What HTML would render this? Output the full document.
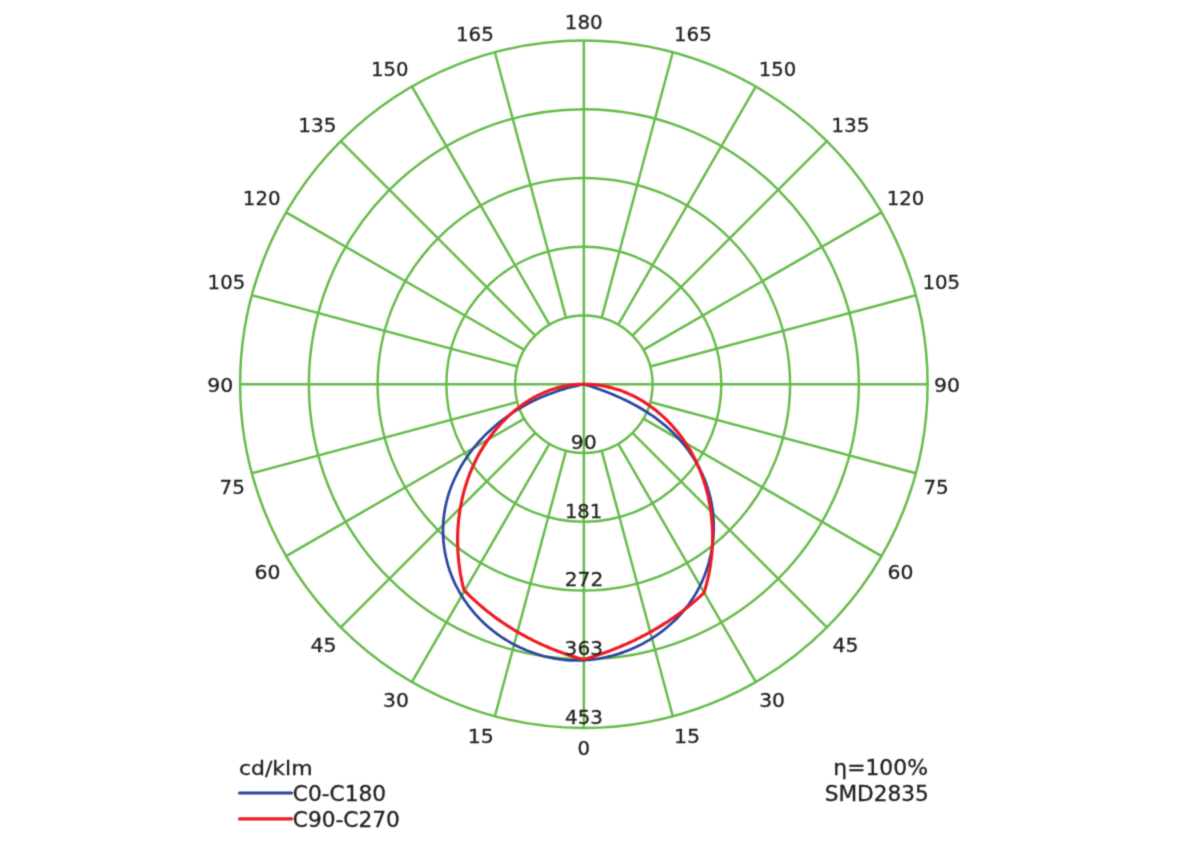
<!DOCTYPE html>
<html lang="en"><head><meta charset="utf-8"><title>Polar luminous intensity diagram</title>
<style>html,body{margin:0;padding:0;background:#fff}body{width:1200px;height:849px;overflow:hidden}svg{display:block}text{font-family:"DejaVu Sans","Liberation Sans",sans-serif;fill:#231f20;stroke:#231f20;stroke-width:.3px}</style></head><body>
<svg width="1200" height="849" viewBox="0 0 1200 849">
<defs><filter id="soft" x="0" y="0" width="1200" height="849" filterUnits="userSpaceOnUse" color-interpolation-filters="sRGB"><feConvolveMatrix order="3" kernelMatrix="0.0256 0.1088 0.0256 0.1088 0.4624 0.1088 0.0256 0.1088 0.0256" edgeMode="duplicate" preserveAlpha="false"/></filter></defs>
<g filter="url(#soft)">
<rect width="1200" height="849" fill="#fff"/>
<g fill="none" stroke="#66bb4a" stroke-width="2.45">
<circle cx="583.85" cy="384.25" r="68.75"/>
<circle cx="583.85" cy="384.25" r="137.50"/>
<circle cx="583.85" cy="384.25" r="206.25"/>
<circle cx="583.85" cy="384.25" r="275.00"/>
<circle cx="583.85" cy="384.25" r="343.75"/>
<line x1="240.10" y1="384.25" x2="927.60" y2="384.25"/>
<line x1="583.85" y1="40.50" x2="583.85" y2="728.00"/>
<line x1="601.64" y1="450.66" x2="672.82" y2="716.29"/>
<line x1="618.23" y1="443.79" x2="755.73" y2="681.95"/>
<line x1="632.46" y1="432.86" x2="826.92" y2="627.32"/>
<line x1="643.39" y1="418.62" x2="881.55" y2="556.12"/>
<line x1="650.26" y1="402.04" x2="915.89" y2="473.22"/>
<line x1="650.26" y1="366.46" x2="915.89" y2="295.28"/>
<line x1="643.39" y1="349.88" x2="881.55" y2="212.38"/>
<line x1="632.46" y1="335.64" x2="826.92" y2="141.18"/>
<line x1="618.23" y1="324.71" x2="755.73" y2="86.55"/>
<line x1="601.64" y1="317.84" x2="672.82" y2="52.21"/>
<line x1="566.06" y1="317.84" x2="494.88" y2="52.21"/>
<line x1="549.48" y1="324.71" x2="411.98" y2="86.55"/>
<line x1="535.24" y1="335.64" x2="340.78" y2="141.18"/>
<line x1="524.31" y1="349.88" x2="286.15" y2="212.37"/>
<line x1="517.44" y1="366.46" x2="251.81" y2="295.28"/>
<line x1="517.44" y1="402.04" x2="251.81" y2="473.22"/>
<line x1="524.31" y1="418.62" x2="286.15" y2="556.12"/>
<line x1="535.24" y1="432.86" x2="340.78" y2="627.32"/>
<line x1="549.48" y1="443.79" x2="411.97" y2="681.95"/>
<line x1="566.06" y1="450.66" x2="494.88" y2="716.29"/>
</g>
<g fill="none" stroke-linecap="round" stroke-linejoin="round">
<path stroke="#2b44a0" stroke-width="2.7" d="M584.1 384.2 L581.1 384.8 L578.2 385.4 L575.3 386.1 L572.4 386.7 L569.4 387.5 L566.6 388.3 L563.7 389.1 L560.8 390.0 L557.9 390.9 L555.1 391.9 L552.3 392.9 L549.5 393.9 L546.7 395.0 L543.9 396.2 L541.1 397.3 L538.4 398.6 L535.7 399.8 L533.0 401.1 L530.3 402.5 L527.6 403.9 L525.0 405.3 L522.4 406.8 L519.8 408.3 L517.2 409.8 L514.7 411.4 L512.1 413.1 L509.7 414.8 L507.2 416.5 L504.8 418.3 L502.4 420.1 L500.0 421.9 L497.7 423.8 L495.4 425.7 L493.1 427.7 L490.9 429.7 L488.7 431.7 L486.5 433.8 L484.4 435.9 L482.3 438.1 L480.2 440.3 L478.2 442.5 L476.3 444.8 L474.4 447.1 L472.5 449.5 L470.7 451.8 L468.9 454.3 L467.2 456.7 L465.5 459.2 L463.8 461.7 L462.3 464.3 L460.7 466.8 L459.3 469.5 L457.8 472.1 L456.5 474.8 L455.2 477.5 L453.9 480.2 L452.7 483.0 L451.6 485.8 L450.5 488.6 L449.5 491.4 L448.6 494.2 L447.7 497.1 L447.0 500.0 L446.2 502.9 L445.6 505.9 L445.0 508.8 L444.5 511.8 L444.1 514.7 L443.7 517.7 L443.4 520.7 L443.2 523.7 L443.1 526.7 L443.0 529.7 L443.1 532.7 L443.1 535.7 L443.3 538.7 L443.5 541.7 L443.9 544.7 L444.2 547.7 L444.7 550.6 L445.2 553.6 L445.8 556.5 L446.5 559.4 L447.2 562.4 L448.0 565.3 L448.9 568.1 L449.8 571.0 L450.9 573.8 L451.9 576.6 L453.1 579.4 L454.3 582.1 L455.6 584.8 L457.0 587.5 L458.4 590.1 L459.9 592.8 L461.4 595.3 L463.0 597.9 L464.7 600.4 L466.4 602.8 L468.1 605.3 L470.0 607.7 L471.8 610.0 L473.8 612.3 L475.7 614.6 L477.8 616.8 L479.8 619.0 L481.9 621.1 L484.1 623.2 L486.3 625.2 L488.6 627.2 L490.9 629.1 L493.2 631.0 L495.6 632.8 L498.0 634.6 L500.5 636.3 L503.0 638.0 L505.5 639.6 L508.1 641.2 L510.7 642.7 L513.3 644.1 L515.9 645.5 L518.6 646.8 L521.3 648.1 L524.1 649.3 L526.9 650.5 L529.7 651.6 L532.5 652.6 L535.3 653.6 L538.2 654.5 L541.0 655.4 L543.9 656.2 L546.9 656.9 L549.8 657.5 L552.7 658.1 L555.7 658.7 L558.7 659.1 L561.6 659.5 L564.6 659.8 L567.6 660.1 L570.6 660.3 L573.6 660.4 L576.6 660.4 L579.6 660.4 L582.6 660.3 L585.6 660.1 L588.6 659.9 L591.6 659.6 L594.6 659.2 L597.5 658.8 L600.5 658.3 L603.4 657.7 L606.4 657.1 L609.3 656.4 L612.2 655.7 L615.1 654.9 L618.0 654.0 L620.8 653.1 L623.7 652.1 L626.5 651.0 L629.3 649.9 L632.0 648.8 L634.8 647.6 L637.5 646.3 L640.2 645.0 L642.9 643.6 L645.5 642.1 L648.1 640.6 L650.7 639.1 L653.2 637.5 L655.7 635.8 L658.2 634.1 L660.6 632.4 L663.0 630.6 L665.4 628.7 L667.7 626.8 L670.0 624.8 L672.2 622.8 L674.4 620.8 L676.5 618.7 L678.6 616.5 L680.6 614.3 L682.6 612.0 L684.6 609.7 L686.4 607.4 L688.3 605.0 L690.0 602.6 L691.7 600.1 L693.4 597.6 L694.9 595.1 L696.5 592.5 L697.9 589.8 L699.3 587.2 L700.6 584.5 L701.9 581.8 L703.1 579.0 L704.3 576.2 L705.3 573.4 L706.3 570.6 L707.3 567.8 L708.2 564.9 L709.0 562.0 L709.7 559.1 L710.4 556.2 L711.1 553.2 L711.6 550.3 L712.1 547.3 L712.5 544.4 L712.9 541.4 L713.2 538.4 L713.4 535.4 L713.6 532.4 L713.7 529.4 L713.7 526.4 L713.6 523.4 L713.5 520.4 L713.3 517.4 L713.1 514.4 L712.8 511.4 L712.4 508.5 L711.9 505.5 L711.4 502.5 L710.8 499.6 L710.1 496.7 L709.3 493.8 L708.5 490.9 L707.6 488.0 L706.7 485.2 L705.7 482.3 L704.6 479.5 L703.4 476.8 L702.2 474.0 L700.9 471.3 L699.6 468.6 L698.2 466.0 L696.7 463.3 L695.2 460.8 L693.6 458.2 L692.0 455.7 L690.3 453.2 L688.6 450.7 L686.8 448.3 L684.9 446.0 L683.1 443.6 L681.1 441.3 L679.1 439.1 L677.1 436.9 L675.0 434.7 L672.9 432.6 L670.7 430.5 L668.5 428.5 L666.3 426.5 L664.0 424.6 L661.6 422.7 L659.3 420.8 L656.9 419.0 L654.5 417.2 L652.0 415.5 L649.5 413.8 L647.0 412.2 L644.5 410.6 L641.9 409.0 L639.3 407.5 L636.7 406.0 L634.1 404.6 L631.4 403.2 L628.7 401.8 L626.1 400.5 L623.4 399.2 L620.6 397.9 L617.9 396.7 L615.1 395.5 L612.4 394.3 L609.6 393.2 L606.8 392.1 L604.0 391.0 L601.2 389.9 L598.4 388.9 L595.5 387.9 L592.7 387.0 L589.8 386.0 L587.0 385.1 L584.1 384.2"/>
<path stroke="#ed1c24" stroke-width="3.15" d="M584.1 384.2 L581.1 384.3 L578.1 384.4 L575.1 384.6 L572.2 384.9 L569.2 385.3 L566.2 385.8 L563.3 386.4 L560.4 387.1 L557.5 387.8 L554.6 388.7 L551.8 389.6 L548.9 390.6 L546.2 391.7 L543.4 392.8 L540.7 394.1 L538.0 395.4 L535.3 396.7 L532.7 398.2 L530.1 399.7 L527.6 401.3 L525.1 402.9 L522.6 404.6 L520.2 406.4 L517.8 408.2 L515.4 410.0 L513.1 411.9 L510.9 413.9 L508.7 415.9 L506.5 418.0 L504.4 420.1 L502.3 422.2 L500.2 424.4 L498.3 426.7 L496.3 428.9 L494.4 431.2 L492.5 433.6 L490.7 436.0 L489.0 438.4 L487.2 440.8 L485.6 443.3 L483.9 445.8 L482.4 448.4 L480.8 450.9 L479.3 453.5 L477.9 456.1 L476.5 458.8 L475.2 461.5 L473.9 464.2 L472.6 466.9 L471.5 469.6 L470.3 472.4 L469.2 475.2 L468.2 478.0 L467.2 480.8 L466.3 483.7 L465.4 486.5 L464.5 489.4 L463.7 492.3 L463.0 495.2 L462.3 498.1 L461.7 501.0 L461.1 504.0 L460.5 506.9 L460.0 509.8 L459.6 512.8 L459.2 515.8 L458.8 518.7 L458.5 521.7 L458.2 524.7 L458.0 527.7 L457.8 530.7 L457.7 533.7 L457.6 536.7 L457.6 539.6 L457.6 542.6 L457.7 545.6 L457.8 548.6 L457.9 551.6 L458.1 554.6 L458.4 557.6 L458.7 560.6 L459.0 563.5 L459.4 566.5 L459.8 569.5 L460.2 572.4 L460.7 575.4 L461.3 578.3 L461.9 581.3 L462.5 584.2 L463.2 587.1 L463.9 590.0 L466.0 592.1 L468.1 594.2 L470.2 596.3 L472.4 598.4 L474.6 600.4 L476.8 602.4 L479.0 604.4 L481.3 606.3 L483.6 608.2 L485.9 610.1 L488.2 612.0 L490.6 613.8 L492.9 615.6 L495.3 617.4 L497.7 619.1 L500.2 620.9 L502.6 622.5 L505.1 624.2 L507.6 625.8 L510.1 627.4 L512.7 629.0 L515.2 630.6 L517.8 632.1 L520.4 633.6 L523.0 635.0 L525.6 636.4 L528.2 637.8 L530.9 639.2 L533.5 640.6 L536.2 641.9 L538.9 643.2 L541.6 644.4 L544.3 645.6 L547.0 646.8 L549.8 648.0 L552.5 649.1 L555.3 650.2 L558.1 651.3 L560.9 652.3 L563.7 653.4 L566.5 654.3 L569.3 655.3 L572.2 656.2 L575.0 657.1 L577.9 658.0 L580.7 658.8 L583.6 659.6 L586.5 658.7 L589.4 657.8 L592.3 656.9 L595.1 656.0 L598.0 655.0 L600.9 654.1 L603.7 653.0 L606.6 652.0 L609.4 651.0 L612.2 649.9 L615.0 648.8 L617.8 647.6 L620.6 646.5 L623.4 645.3 L626.2 644.1 L628.9 642.8 L631.7 641.6 L634.4 640.3 L637.1 638.9 L639.8 637.6 L642.5 636.2 L645.2 634.8 L647.9 633.4 L650.5 631.9 L653.2 630.5 L655.8 628.9 L658.4 627.4 L661.0 625.8 L663.5 624.2 L666.1 622.6 L668.6 621.0 L671.1 619.3 L673.6 617.6 L676.1 615.8 L678.6 614.1 L681.0 612.3 L683.4 610.5 L685.8 608.6 L688.1 606.7 L690.5 604.8 L692.8 602.9 L695.1 600.9 L697.4 598.9 L699.6 596.9 L701.8 594.8 L704.0 592.7 L704.9 589.8 L705.7 587.0 L706.5 584.1 L707.2 581.2 L707.9 578.3 L708.6 575.4 L709.1 572.4 L709.7 569.5 L710.2 566.5 L710.6 563.6 L711.0 560.6 L711.4 557.7 L711.7 554.7 L712.0 551.7 L712.2 548.7 L712.4 545.8 L712.5 542.8 L712.6 539.8 L712.6 536.8 L712.6 533.8 L712.5 530.8 L712.4 527.8 L712.2 524.8 L712.0 521.9 L711.7 518.9 L711.4 515.9 L711.1 512.9 L710.6 510.0 L710.2 507.0 L709.7 504.1 L709.1 501.1 L708.5 498.2 L707.9 495.3 L707.2 492.4 L706.4 489.5 L705.6 486.6 L704.7 483.8 L703.8 480.9 L702.9 478.1 L701.9 475.3 L700.8 472.5 L699.7 469.7 L698.5 467.0 L697.3 464.2 L696.1 461.5 L694.7 458.8 L693.4 456.2 L692.0 453.5 L690.5 450.9 L689.0 448.4 L687.4 445.8 L685.8 443.3 L684.1 440.8 L682.4 438.4 L680.6 436.0 L678.8 433.6 L676.9 431.3 L675.0 429.0 L673.1 426.7 L671.1 424.5 L669.0 422.3 L666.9 420.2 L664.8 418.1 L662.6 416.1 L660.3 414.1 L658.1 412.2 L655.8 410.3 L653.4 408.4 L651.0 406.7 L648.6 404.9 L646.1 403.3 L643.6 401.7 L641.0 400.1 L638.4 398.6 L635.8 397.2 L633.1 395.8 L630.4 394.6 L627.7 393.3 L624.9 392.2 L622.1 391.1 L619.3 390.1 L616.5 389.2 L613.6 388.4 L610.7 387.6 L607.8 386.9 L604.9 386.3 L601.9 385.7 L599.0 385.3 L596.0 384.9 L593.1 384.6 L590.1 384.4 L587.1 384.3 L584.1 384.2"/>
</g>
<g>
<text transform="translate(455.89 41.25) scale(0.9826 1.0)" font-size="20.2">165</text>
<text transform="translate(673.99 41.25) scale(0.9826 1.0)" font-size="20.2">165</text>
<text transform="translate(371.01 75.85) scale(0.9714 1.0)" font-size="20.2">150</text>
<text transform="translate(758.81 75.85) scale(0.9714 1.0)" font-size="20.2">150</text>
<text transform="translate(298.16 131.85) scale(0.9942 1.0)" font-size="20.2">135</text>
<text transform="translate(831.26 131.85) scale(0.9942 1.0)" font-size="20.2">135</text>
<text transform="translate(242.85 205.00) scale(0.9771 1.0)" font-size="20.2">120</text>
<text transform="translate(886.75 205.00) scale(0.9771 1.0)" font-size="20.2">120</text>
<text transform="translate(207.60 289.05) scale(0.9768 1.0)" font-size="20.2">105</text>
<text transform="translate(922.50 289.05) scale(0.9768 1.0)" font-size="20.2">105</text>
<text transform="translate(207.34 391.75) scale(1.0119 1.0)" font-size="20.2">90</text>
<text transform="translate(933.94 391.75) scale(1.0119 1.0)" font-size="20.2">90</text>
<text transform="translate(219.59 494.25) scale(0.9888 1.0)" font-size="20.2">75</text>
<text transform="translate(923.39 494.25) scale(0.9888 1.0)" font-size="20.2">75</text>
<text transform="translate(254.61 579.05) scale(1.0087 1.0)" font-size="20.2">60</text>
<text transform="translate(887.61 579.05) scale(1.0087 1.0)" font-size="20.2">60</text>
<text transform="translate(310.49 651.85) scale(1.0142 1.0)" font-size="20.2">45</text>
<text transform="translate(832.49 651.85) scale(1.0142 1.0)" font-size="20.2">45</text>
<text transform="translate(382.99 707.45) scale(1.0055 1.0)" font-size="20.2">30</text>
<text transform="translate(759.19 707.45) scale(1.0055 1.0)" font-size="20.2">30</text>
<text transform="translate(467.71 743.45) scale(1.0173 1.0)" font-size="20.2">15</text>
<text transform="translate(673.91 743.45) scale(1.0173 1.0)" font-size="20.2">15</text>
<text transform="translate(564.84 29.35) scale(0.9829 1.0)" font-size="20.2">180</text>
<text transform="translate(577.41 754.85) scale(0.9778 1.0)" font-size="20.2">0</text>
<text transform="translate(570.74 448.75) scale(1.0119 1.0)" font-size="20.2">90</text>
<text transform="translate(564.93 517.50) scale(0.9658 1.0)" font-size="20.2">181</text>
<text x="564.70" y="586.25" font-size="20.2">272</text>
<text transform="translate(564.61 655.00) scale(0.9951 1.0)" font-size="20.2">363</text>
<text transform="translate(565.07 723.75) scale(0.9840 1.0)" font-size="20.2">453</text>
</g>
<text transform="translate(238.91 775.40) scale(1.0981 1.0)" font-size="20.0">cd/klm</text>
<line x1="239.6" y1="793" x2="291.6" y2="793" stroke="#2b44a0" stroke-width="3.2" stroke-linecap="round"/>
<text transform="translate(292.78 801.35) scale(1.0858 1.02)" font-size="20.0">C0-C180</text>
<line x1="239.6" y1="818.9" x2="291.6" y2="818.9" stroke="#ed1c24" stroke-width="3.4" stroke-linecap="round"/>
<text transform="translate(292.78 827.45) scale(1.0857 1.02)" font-size="20.0">C90-C270</text>
<text transform="translate(833.35 775.15) scale(1.0918 1.02)" font-size="20.0">η=100%</text>
<text transform="translate(824.71 801.35) scale(1.0824 1.02)" font-size="20.0">SMD2835</text>
</g>
</svg></body></html>
